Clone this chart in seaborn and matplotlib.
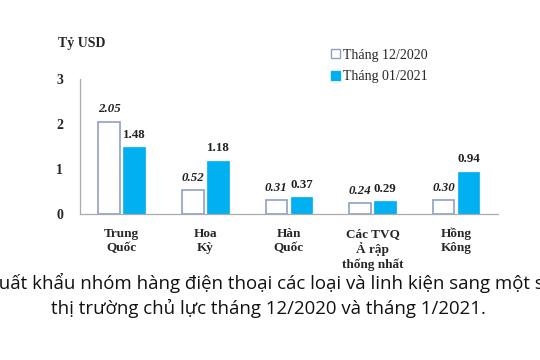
import matplotlib
matplotlib.use("Agg")
import matplotlib.pyplot as plt
import seaborn as sns
import numpy as np
import pandas as pd
from matplotlib.patches import Patch

# Data
markets = ["Trung\nQuốc", "Hoa\nKỳ", "Hàn\nQuốc", "Các TVQ\nẢ rập\nthống nhất", "Hồng\nKông"]
series_names = ["Tháng 12/2020", "Tháng 01/2021"]
dec_2020 = [2.05, 0.52, 0.31, 0.24, 0.30]
jan_2021 = [1.48, 1.18, 0.37, 0.29, 0.94]
y_ticks = [0, 1, 2, 3]

df = pd.DataFrame({
    "market": markets * 2,
    "series": [series_names[0]] * 5 + [series_names[1]] * 5,
    "value": dec_2020 + jan_2021,
})

sns.set_style("white")
serif = ["Liberation Serif", "DejaVu Serif"]
caption_font = ["Open Sans", "DejaVu Sans"]

blue = "#00B0F0"
edge = "#8FA0C8"

fig = plt.figure(figsize=(5.4, 3.6), dpi=100)
ax = fig.add_axes([0.148, 0.406, 0.774, 0.375])

sns.barplot(data=df, x="market", y="value", hue="series", order=markets,
            hue_order=series_names, palette=["white", blue], saturation=1,
            width=0.6, gap=0.14, legend=False, ax=ax)

# style bars
for bar in ax.containers[0]:
    bar.set_edgecolor(edge)
    bar.set_linewidth(1.2)
for bar in ax.containers[1]:
    bar.set_edgecolor(blue)
    bar.set_linewidth(0.5)

# value labels
for bars, vals, style in [(ax.containers[0], dec_2020, "italic"),
                          (ax.containers[1], jan_2021, "normal")]:
    for bar, v in zip(bars, vals):
        ax.annotate(f"{v:.2f}", (bar.get_x() + bar.get_width() / 2, v),
                    xytext=(0, 4.5), textcoords="offset points",
                    ha="center", va="bottom", fontsize=9.3,
                    fontweight="bold", fontstyle=style, family=serif,
                    color="#222222")

ax.set_ylim(0, 3)
ax.set_xlim(-0.5, 4.5)
ax.set_yticks(y_ticks)
ax.set_yticklabels([str(t) for t in y_ticks], fontsize=10, fontweight="bold",
                   family=serif)
ax.set_xticks(range(len(markets)))
ax.set_xticklabels(markets, fontsize=9.5, fontweight="bold", family=serif,
                   linespacing=1.25)
ax.set_xticks(np.arange(-0.5, 5, 1), minor=True)
ax.tick_params(axis="x", which="major", length=0, pad=10)
ax.tick_params(axis="x", which="minor", length=4, color="#999999", width=0.8)
ax.tick_params(axis="y", length=4, color="#999999", width=0.8, pad=8)
ax.set_xlabel("")
ax.set_ylabel("")

sns.despine(ax=ax)
for s in ["left", "bottom"]:
    ax.spines[s].set_color("#AAAAAA")
    ax.spines[s].set_linewidth(0.9)

fig.text(0.107, 0.88, "Tỷ USD", fontsize=10, fontweight="bold", family=serif,
         ha="left", va="center")

handles = [Patch(facecolor="white", edgecolor=edge, label=series_names[0]),
           Patch(facecolor=blue, edgecolor=blue, label=series_names[1])]
fig.legend(handles=handles, loc="upper left", bbox_to_anchor=(0.603, 0.88),
           frameon=False, prop={"family": serif, "size": 10},
           handlelength=0.6, handleheight=0.6, handletextpad=0.25,
           labelspacing=0.6, borderaxespad=0)

# caption runs past both edges, as in the source image
fig.text(0.503, 0.213, "Xuất khẩu nhóm hàng điện thoại các loại và linh kiện sang một số",
         fontsize=13.4, family=caption_font, ha="center", va="center",
         color="#111111")
fig.text(0.497, 0.143, "thị trường chủ lực tháng 12/2020 và tháng 1/2021.",
         fontsize=13.4, family=caption_font, ha="center", va="center",
         color="#111111")

fig.savefig("out.png", dpi=100)
